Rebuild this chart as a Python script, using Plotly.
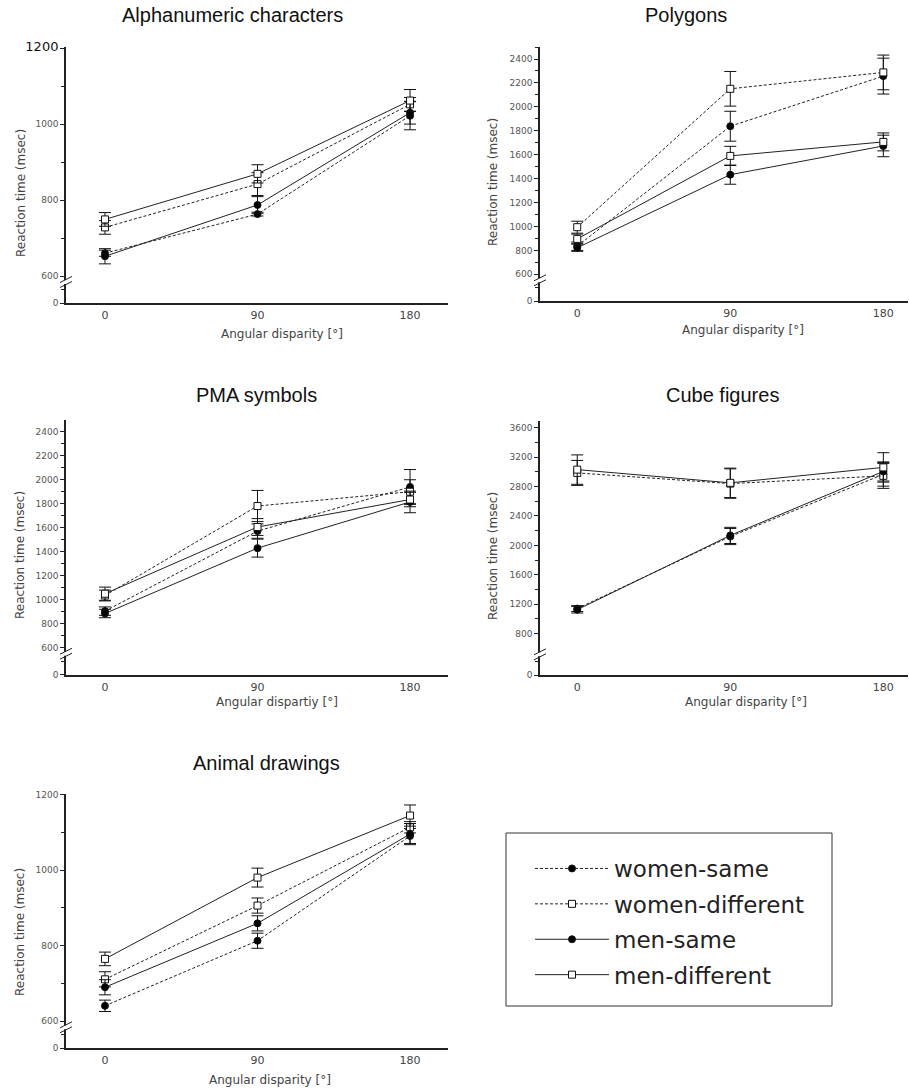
import plotly.graph_objects as go

W, H = 909, 1088

# ---------------- data ----------------
angles = [0, 90, 180]
series_names = ["women-same", "women-different", "men-same", "men-different"]

panel_titles = ["Alphanumeric characters", "Polygons", "PMA symbols",
                "Cube figures", "Animal drawings"]
x_titles = ["Angular disparity [°]", "Angular disparity [°]", "Angular dispartiy [°]",
            "Angular disparity [°]", "Angular disparity [°]"]
y_title = "Reaction time (msec)"
x_tick_labels = ["0", "90", "180"]

# Alphanumeric characters
alnum_women_same = [660, 763, 1022]
alnum_women_diff = [728, 842, 1052]
alnum_men_same = [652, 787, 1030]
alnum_men_diff = [749, 869, 1062]
alnum_women_same_err = [8, 5, 37]
alnum_women_diff_err = [18, 30, 18]
alnum_men_same_err = [20, 22, 30]
alnum_men_diff_err = [18, 24, 29]

# Polygons
poly_women_same = [835, 1838, 2257]
poly_women_diff = [994, 2151, 2288]
poly_men_same = [822, 1433, 1673]
poly_men_diff = [896, 1590, 1707]
poly_women_same_err = [35, 125, 150]
poly_women_diff_err = [50, 145, 145]
poly_men_same_err = [30, 80, 90]
poly_men_diff_err = [40, 80, 75]

# PMA symbols
pma_women_same = [905, 1572, 1940]
pma_women_diff = [1035, 1781, 1900]
pma_men_same = [885, 1430, 1815]
pma_men_diff = [1050, 1606, 1835]
pma_women_same_err = [35, 60, 145]
pma_women_diff_err = [45, 130, 100]
pma_men_same_err = [35, 75, 90]
pma_men_diff_err = [55, 70, 60]

# Cube figures
cube_women_same = [1140, 2120, 2965]
cube_women_diff = [2985, 2840, 2945]
cube_men_same = [1125, 2135, 3005]
cube_men_diff = [3030, 2850, 3060]
cube_women_same_err = [40, 110, 160]
cube_women_diff_err = [170, 200, 170]
cube_men_same_err = [45, 110, 130]
cube_men_diff_err = [200, 200, 200]

# Animal drawings
animal_women_same = [641, 813, 1090]
animal_women_diff = [711, 906, 1113]
animal_men_same = [690, 859, 1095]
animal_men_diff = [765, 980, 1144]
animal_women_same_err = [15, 20, 20]
animal_women_diff_err = [20, 20, 15]
animal_men_same_err = [20, 20, 28]
animal_men_diff_err = [18, 25, 28]

# y-axis tick labels (above the axis break) and the label below the break
alnum_yticks = [600, 800, 1000, 1200]
poly_yticks = [600, 800, 1000, 1200, 1400, 1600, 1800, 2000, 2200, 2400]
pma_yticks = [600, 800, 1000, 1200, 1400, 1600, 1800, 2000, 2200, 2400]
cube_yticks = [800, 1200, 1600, 2000, 2400, 2800, 3200, 3600]
animal_yticks = [600, 800, 1000, 1200]
break_value = 600
below_break_label = "0"

panel_means = [
    [alnum_women_same, alnum_women_diff, alnum_men_same, alnum_men_diff],
    [poly_women_same, poly_women_diff, poly_men_same, poly_men_diff],
    [pma_women_same, pma_women_diff, pma_men_same, pma_men_diff],
    [cube_women_same, cube_women_diff, cube_men_same, cube_men_diff],
    [animal_women_same, animal_women_diff, animal_men_same, animal_men_diff],
]
panel_errs = [
    [alnum_women_same_err, alnum_women_diff_err, alnum_men_same_err, alnum_men_diff_err],
    [poly_women_same_err, poly_women_diff_err, poly_men_same_err, poly_men_diff_err],
    [pma_women_same_err, pma_women_diff_err, pma_men_same_err, pma_men_diff_err],
    [cube_women_same_err, cube_women_diff_err, cube_men_same_err, cube_men_diff_err],
    [animal_women_same_err, animal_women_diff_err, animal_men_same_err, animal_men_diff_err],
]
panel_yticks = [alnum_yticks, poly_yticks, pma_yticks, cube_yticks, animal_yticks]
panel_minor_step = [100, 100, 100, 200, 100]

# ---------------- layout geometry (pixels) ----------------
# (left, right, top, bottom) of each axis box
boxes = [(66, 448, 47, 303), (540, 908, 46.7, 301.3), (66, 448, 420, 674.7),
         (540, 908, 421, 675.3), (66, 448, 794, 1048.3)]
y_top_value = [1203, 2503, 2498, 3691, 1201]
x_ranges = [[-23, 202.4], [-21.9, 194.5], [-23, 202.4], [-21.9, 194.5], [-23, 202.4]]
break_gap_px = 27

title_pos = [(232, 15), (686, 15), (256, 395), (722, 395), (266, 763)]
ytitle_pos = [(21, 193), (493, 182), (20, 555), (493, 556), (20, 932)]
xtitle_pos = [(282, 334), (743, 330), (277, 702), (746, 702), (270, 1080)]
legend_box = (506, 833, 832, 1006)

styles = {
    "women-same": dict(dash="3px,2px", symbol="circle", fill="black"),
    "women-different": dict(dash="3px,2px", symbol="square", fill="white"),
    "men-same": dict(dash="solid", symbol="circle", fill="black"),
    "men-different": dict(dash="solid", symbol="square", fill="white"),
}

TICK_FONT = dict(family="DejaVu Sans", size=9, color="#555")
LABEL_FONT = dict(family="DejaVu Sans", size=12, color="#444")

fig = go.Figure()
shapes = []
annotations = []


def px2paper(px, py):
    return px / W, 1 - py / H


for p in range(5):
    ax = "" if p == 0 else str(p + 1)
    xref, yref = "x" + ax, "y" + ax
    left, right, top, bottom = boxes[p]
    top_val = y_top_value[p]
    px_per_unit = (bottom - top - break_gap_px) / (top_val - break_value)
    zero_pos = break_value - break_gap_px / px_per_unit

    for s, name in enumerate(series_names):
        st = styles[name]
        fig.add_trace(go.Scatter(
            x=angles, y=panel_means[p][s], xaxis=xref, yaxis=yref,
            mode="lines+markers", name=name, legendgroup=name,
            showlegend=(p == 0),
            line=dict(color="#222", width=1, dash=st["dash"]),
            marker=dict(symbol=st["symbol"], size=7,
                        color=st["fill"], line=dict(color="#111", width=1)),
            error_y=dict(type="data", array=panel_errs[p][s], color="#111",
                         thickness=1, width=6),
        ))

    yt = panel_yticks[p]
    tickvals = [zero_pos] + yt
    ticktext = [below_break_label] + [str(v) for v in yt]
    if p == 0:
        ticktext[-1] = "<span style='font-size:13px;fill:#111'>%d</span>" % yt[-1]
    step = panel_minor_step[p]
    minor_vals = [v for v in range(break_value + step, int(top_val) + 1, step) if v not in yt]
    minor_vals.append((zero_pos + break_value) / 2)

    xd0, _ = px2paper(left, 0)
    xd1, _ = px2paper(right, 0)
    _, yd0 = px2paper(0, bottom)
    _, yd1 = px2paper(0, top)

    fig.update_layout(**{
        "xaxis" + ax: dict(domain=[xd0, xd1], range=x_ranges[p], anchor=yref,
                           tickvals=angles, ticktext=x_tick_labels, automargin=False,
                           showline=True, linecolor="#222", linewidth=1.5,
                           showgrid=False, zeroline=False, ticks="outside",
                           ticklen=1, tickcolor="rgba(0,0,0,0)",
                           tickfont=dict(family="DejaVu Sans", size=11, color="#444"),
                           fixedrange=True),
        "yaxis" + ax: dict(domain=[yd0, yd1], range=[zero_pos, top_val], anchor=xref,
                           tickvals=tickvals, ticktext=ticktext, automargin=False,
                           showline=True, linecolor="#222", linewidth=1.5,
                           showgrid=False, zeroline=False, ticks="outside",
                           ticklen=4, tickwidth=1, tickcolor="#222",
                           tickfont=TICK_FONT,
                           minor=dict(tickvals=minor_vals, ticklen=3, tickwidth=1,
                                      tickcolor="#222", ticks="outside"),
                           fixedrange=True),
    })

    # axis-break marks on the y axis
    by = break_value - 6 / px_per_unit
    shapes.append(dict(type="rect", xref=xref + " domain", yref=yref,
                       xsizemode="pixel", ysizemode="pixel", xanchor=0, yanchor=by,
                       x0=-3, x1=3, y0=-2, y1=2, fillcolor="white",
                       line=dict(width=0), layer="above"))
    for off in (-2.5, 2.5):
        shapes.append(dict(type="line", xref=xref + " domain", yref=yref,
                           xsizemode="pixel", ysizemode="pixel", xanchor=0, yanchor=by,
                           x0=-6, x1=6, y0=off - 3, y1=off + 3,
                           line=dict(color="#222", width=1), layer="above"))

    tx, ty = px2paper(*title_pos[p])
    annotations.append(dict(text=panel_titles[p], x=tx, y=ty, xref="paper", yref="paper",
                            showarrow=False, xanchor="center", yanchor="middle",
                            font=dict(family="Liberation Sans, Arial", size=20, color="#111")))
    tx, ty = px2paper(*ytitle_pos[p])
    annotations.append(dict(text=y_title, x=tx, y=ty, xref="paper", yref="paper",
                            showarrow=False, xanchor="center", yanchor="middle",
                            textangle=-90, font=LABEL_FONT))
    tx, ty = px2paper(*xtitle_pos[p])
    annotations.append(dict(text=x_titles[p], x=tx, y=ty, xref="paper", yref="paper",
                            showarrow=False, xanchor="center", yanchor="middle",
                            font=LABEL_FONT))

# legend frame
bx0, by0 = px2paper(legend_box[0], legend_box[1])
bx1, by1 = px2paper(legend_box[2], legend_box[3])
shapes.append(dict(type="rect", xref="paper", yref="paper", x0=bx0, y0=by1, x1=bx1, y1=by0,
                   line=dict(color="#333", width=1), fillcolor="rgba(0,0,0,0)", layer="below"))

lx, ly = px2paper(530, 847)
fig.update_layout(
    width=W, height=H, margin=dict(l=0, r=0, t=0, b=0, autoexpand=False),
    paper_bgcolor="white", plot_bgcolor="white",
    shapes=shapes, annotations=annotations,
    showlegend=True,
    legend=dict(x=lx, y=ly, xanchor="left", yanchor="top",
                borderwidth=0, bgcolor="rgba(0,0,0,0)",
                font=dict(family="DejaVu Sans", size=23, color="#222"),
                itemwidth=74, tracegroupgap=2.5, itemclick=False, itemdoubleclick=False),
)

fig.write_html("out.html", config={"displayModeBar": False},
               post_script="document.body.style.margin='0';document.body.style.overflow='hidden';")
